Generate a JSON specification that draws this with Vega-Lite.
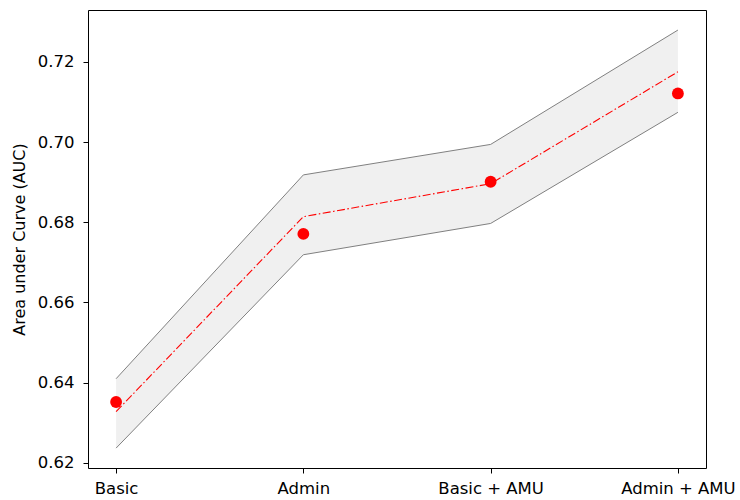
{
  "$schema": "https://vega.github.io/schema/vega-lite/v6.json",
  "width": 618,
  "height": 458,
  "autosize": {"type": "none"},
  "padding": {"left": 88, "top": 10, "right": 34, "bottom": 32},
  "background": "white",
  "config": {
    "view": {"stroke": "black", "strokeWidth": 1},
    "font": "DejaVu Sans",
    "axis": {
      "grid": false,
      "domain": false,
      "tickColor": "black",
      "tickSize": 5,
      "tickWidth": 1,
      "labelFont": "DejaVu Sans",
      "labelFontSize": 16.5,
      "labelColor": "black",
      "titleFont": "DejaVu Sans",
      "titleFontSize": 16,
      "titleFontWeight": "normal",
      "titleColor": "black"
    }
  },
  "data": {
    "values": [
      {"model": "Basic", "auc": 0.6352, "mean": 0.6328, "lo": 0.6237, "hi": 0.6410},
      {"model": "Admin", "auc": 0.6771, "mean": 0.6814, "lo": 0.6719, "hi": 0.6918},
      {"model": "Basic + AMU", "auc": 0.6901, "mean": 0.6896, "lo": 0.6797, "hi": 0.6994},
      {"model": "Admin + AMU", "auc": 0.7121, "mean": 0.7175, "lo": 0.7074, "hi": 0.7279}
    ]
  },
  "encoding": {
    "x": {
      "field": "model",
      "type": "ordinal",
      "sort": null,
      "scale": {"type": "point", "padding": 0.15},
      "axis": {"title": null, "labelAngle": 0, "labelPadding": 7}
    }
  },
  "layer": [
    {
      "mark": {"type": "area", "color": "#f0f0f0", "opacity": 1},
      "encoding": {
        "y": {
          "field": "lo",
          "type": "quantitative",
          "scale": {"domain": [0.61875, 0.7329], "nice": false, "zero": false},
          "axis": {
            "title": "Area under Curve (AUC)",
            "values": [0.62, 0.64, 0.66, 0.68, 0.7, 0.72],
            "format": ".2f",
            "labelPadding": 9,
            "titlePadding": 10
          }
        },
        "y2": {"field": "hi"}
      }
    },
    {
      "mark": {"type": "line", "color": "#808080", "strokeWidth": 1},
      "encoding": {"y": {"field": "lo", "type": "quantitative"}}
    },
    {
      "mark": {"type": "line", "color": "#808080", "strokeWidth": 1},
      "encoding": {"y": {"field": "hi", "type": "quantitative"}}
    },
    {
      "mark": {"type": "line", "color": "red", "strokeWidth": 1.1, "strokeDash": [8, 2.5, 1.5, 2.5]},
      "encoding": {"y": {"field": "mean", "type": "quantitative"}}
    },
    {
      "mark": {"type": "point", "filled": true, "color": "red", "opacity": 1, "size": 140, "shape": "circle"},
      "encoding": {"y": {"field": "auc", "type": "quantitative"}}
    }
  ]
}
